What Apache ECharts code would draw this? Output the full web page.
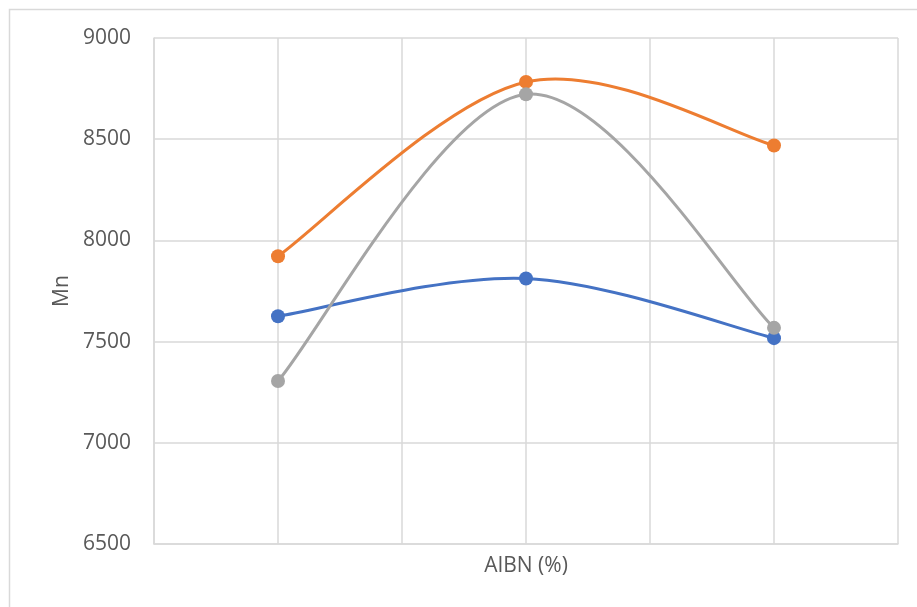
<!DOCTYPE html>
<html>
<head>
<meta charset="utf-8">
<script src="https://cdn.jsdelivr.net/npm/echarts@6/dist/echarts.min.js"></script>
<style>
  html, body { margin: 0; padding: 0; background: #fff; }
  #chart { width: 917px; height: 607px; }
</style>
</head>
<body>
<div id="chart"></div>
<script>
// AIBN level positions along the x axis (labels are not shown)
const aibnLevels = [0.5, 1.5, 2.5];

// Number-average molecular weight (Mn) for each series
const seriesBlue = [7625, 7812, 7517];
const seriesOrange = [7922, 8783, 8469];
const seriesGray = [7305, 8722, 7568];

const yTicks = { min: 6500, max: 9000, step: 500 };

const pairs = vals => aibnLevels.map((x, i) => [x, vals[i]]);

const TEXT = { fontFamily: 'Open Sans', fontSize: 21, color: '#595959' };
const GRID_LINE = { color: '#d9d9d9', width: 1.5 };

// Smoothed curve: each segment is a cubic Bezier whose control points
// follow the neighbouring data points (Catmull-Rom style, tension 1/6).
function curveSeries(vals, color) {
  return {
    type: 'custom',
    coordinateSystem: 'cartesian2d',
    data: pairs(vals),
    encode: { x: 0, y: 1 },
    silent: true,
    renderItem: function (params, api) {
      const i = params.dataIndex;
      const n = vals.length;
      if (i >= n - 1) return null;
      const p = aibnLevels.map((x, k) => api.coord([x, vals[k]]));
      const p0 = p[i - 1] || p[i];
      const p1 = p[i];
      const p2 = p[i + 1];
      const p3 = p[i + 2] || p[i + 1];
      return {
        type: 'bezierCurve',
        shape: {
          x1: p1[0], y1: p1[1],
          x2: p2[0], y2: p2[1],
          cpx1: p1[0] + (p2[0] - p0[0]) / 6,
          cpy1: p1[1] + (p2[1] - p0[1]) / 6,
          cpx2: p2[0] - (p3[0] - p1[0]) / 6,
          cpy2: p2[1] - (p3[1] - p1[1]) / 6
        },
        style: { stroke: color, lineWidth: 3, fill: null, lineCap: 'round' }
      };
    }
  };
}

function markerSeries(vals, color) {
  return {
    type: 'scatter',
    data: pairs(vals),
    symbol: 'circle',
    symbolSize: 14,
    itemStyle: { color: color, opacity: 1 },
    silent: true
  };
}

const chart = echarts.init(document.getElementById('chart'));

chart.setOption({
  animation: false,
  backgroundColor: '#fff',
  graphic: [{
    type: 'rect',
    shape: { x: 9.5, y: 9.5, width: 920, height: 620 },
    style: { fill: 'none', stroke: '#d9d9d9', lineWidth: 1.5 },
    silent: true
  }],
  grid: { left: 154, top: 38, right: 19, bottom: 63 },
  xAxis: {
    type: 'value',
    min: 0,
    max: 3,
    interval: 0.5,
    name: 'AIBN (%)',
    nameLocation: 'middle',
    nameGap: 12,
    nameTextStyle: TEXT,
    axisLine: { show: true, lineStyle: GRID_LINE },
    axisTick: { show: false },
    axisLabel: { show: false },
    splitLine: { show: true, lineStyle: GRID_LINE }
  },
  yAxis: {
    type: 'value',
    min: yTicks.min,
    max: yTicks.max,
    interval: yTicks.step,
    name: 'Mn',
    nameLocation: 'middle',
    nameGap: 79,
    nameRotate: 90,
    nameTextStyle: TEXT,
    axisLine: { show: true, lineStyle: GRID_LINE },
    axisTick: { show: false },
    axisLabel: Object.assign({ margin: 23, formatter: v => String(v) }, TEXT),
    splitLine: { show: true, lineStyle: GRID_LINE }
  },
  series: [
    curveSeries(seriesBlue, '#4472C4'),
    markerSeries(seriesBlue, '#4472C4'),
    curveSeries(seriesOrange, '#ED7D31'),
    markerSeries(seriesOrange, '#ED7D31'),
    curveSeries(seriesGray, '#A5A5A5'),
    markerSeries(seriesGray, '#A5A5A5')
  ]
});
</script>
</body>
</html>
